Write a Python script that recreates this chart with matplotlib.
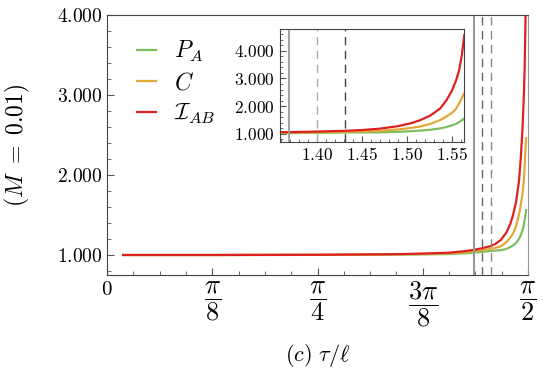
import numpy as np
import matplotlib
matplotlib.use("Agg")
import matplotlib.pyplot as plt
from matplotlib.ticker import MultipleLocator, FixedLocator

plt.rcParams['mathtext.fontset'] = 'cm'
plt.rcParams['font.family'] = 'DejaVu Serif'

# values (tau/ell vs. quantity)
tau = [0.06, 0.40, 0.80, 1.00, 1.10, 1.20, 1.28, 1.34, 1.37, 1.40, 1.43,
       1.45, 1.47, 1.49, 1.505, 1.515, 1.526, 1.537, 1.544, 1.550, 1.5545,
       1.558, 1.561, 1.5637]
P_A = [1.0, 1.0, 1.001, 1.003, 1.005, 1.008, 1.012, 1.022, 1.03, 1.04, 1.05,
       1.055, 1.06, 1.075, 1.10, 1.12, 1.15, 1.20, 1.25, 1.31, 1.36, 1.43,
       1.49, 1.56]
C = [1.0, 1.0, 1.002, 1.006, 1.009, 1.014, 1.02, 1.035, 1.045, 1.06, 1.075,
     1.09, 1.11, 1.16, 1.22, 1.27, 1.36, 1.50, 1.63, 1.76, 1.90, 2.10, 2.30,
     2.46]
I_AB = [1.0, 1.0, 1.003, 1.008, 1.012, 1.02, 1.03, 1.05, 1.065, 1.085, 1.11,
        1.14, 1.19, 1.28, 1.39, 1.50, 1.66, 1.92, 2.22, 2.56, 2.92, 3.30,
        3.84, 4.56]

labels = [r'$P_A$', r'$C$', r'$\mathcal{I}_{AB}$']
colors = ['#7dbf60', '#e3a838', '#dd2020']
series = [P_A, C, I_AB]

solid_x = 1.369
dashed_x = [1.40, 1.431]

fig = plt.figure(figsize=(5.45, 3.8), dpi=100)
ax = fig.add_axes([107/545, 1 - 275/380, 421/545, 260/380])

for y, c, lab in zip(series, colors, labels):
    ax.plot(tau, y, color=c, lw=1.6, label=lab)

ax.axvline(solid_x, color='#999999', lw=1.5)
ax.axvline(dashed_x[0], color='#666666', lw=1.0, ls=(0, (6, 4)))
ax.axvline(dashed_x[1], color='#888888', lw=1.0, ls=(0, (6, 4)))

ax.set_xlim(0, np.pi / 2)
ax.set_ylim(0.75, 4.0)
ax.xaxis.set_major_locator(FixedLocator([0, np.pi/8, np.pi/4, 3*np.pi/8, np.pi/2]))
ax.set_xticklabels([r'$0$', r'$\dfrac{\pi}{8}$', r'$\dfrac{\pi}{4}$',
                    r'$\dfrac{3\pi}{8}$', r'$\dfrac{\pi}{2}$'], fontsize=19)
# the plain zero is set smaller than the fractions
zero_lab = ax.get_xticklabels()[0]
zero_lab.set_fontsize(15)
ax.xaxis.set_minor_locator(MultipleLocator(np.pi / 32))
ax.yaxis.set_major_locator(FixedLocator([1, 2, 3, 4]))
ax.set_yticklabels([r'$1.000$', r'$2.000$', r'$3.000$', r'$4.000$'], fontsize=14)
ax.yaxis.set_minor_locator(MultipleLocator(0.2))
ax.tick_params(which='both', direction='in', top=False, right=False,
               color='#555555')
ax.tick_params(which='major', length=5)
ax.tick_params(which='minor', length=3)
for s in ax.spines.values():
    s.set_color('#444444')
ax.spines['right'].set_color('#999999')
ax.set_ylabel(r'$(M\ =\ 0.01)$', fontsize=17, labelpad=18)
ax.set_xlabel(r'$(c)\ \tau/\ell$', fontsize=16, labelpad=9)

ax.legend(loc='upper left', bbox_to_anchor=(0.02, 0.99), frameon=False,
          fontsize=17, handlelength=0.8, handletextpad=0.8,
          labelspacing=0.33)

# inset
ins = fig.add_axes([280/545, 1 - 141.7/380, 184.3/545, 112.7/380])
for y, c in zip(series, colors):
    ins.plot(tau, y, color=c, lw=1.6)
ins.axvline(solid_x, color='#999999', lw=1.3)
ins.axvline(dashed_x[0], color='#aaaaaa', lw=1.0, ls=(0, (6, 4)))
ins.axvline(dashed_x[1], color='#444444', lw=1.0, ls=(0, (6, 4)))
ins.set_xlim(1.359, 1.5637)
ins.set_ylim(0.72, 4.78)
ins.xaxis.set_major_locator(FixedLocator([1.40, 1.45, 1.50, 1.55]))
ins.set_xticklabels([r'$1.40$', r'$1.45$', r'$1.50$', r'$1.55$'])
ins.xaxis.set_minor_locator(MultipleLocator(0.01))
ins.yaxis.set_major_locator(FixedLocator([1, 2, 3, 4]))
ins.set_yticklabels([r'$1.000$', r'$2.000$', r'$3.000$', r'$4.000$'])
ins.yaxis.set_minor_locator(MultipleLocator(0.2))
ins.tick_params(which='both', direction='in', top=False, right=False,
                labelsize=12.5, color='#555555')
ins.tick_params(which='major', length=4)
ins.tick_params(which='minor', length=2.5)
for s in ins.spines.values():
    s.set_color('#444444')

fig.savefig('out.png', dpi=100)
